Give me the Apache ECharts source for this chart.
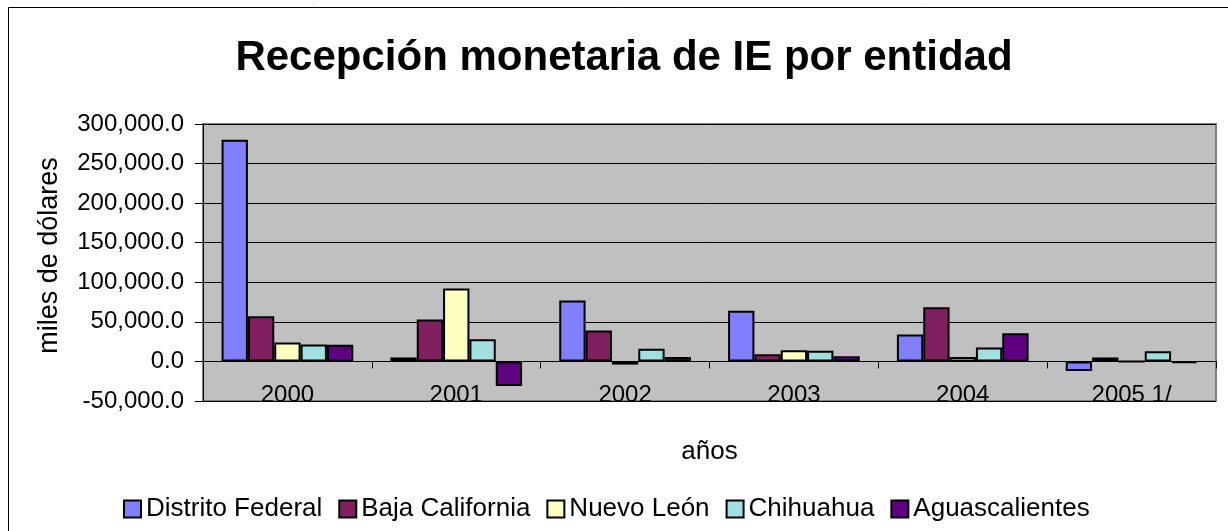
<!DOCTYPE html>
<html>
<head>
<meta charset="utf-8">
<script src="https://cdn.jsdelivr.net/npm/echarts@6/dist/echarts.min.js"></script>
<style>
html,body{margin:0;padding:0;background:#fff;}
#c{width:1228px;height:531px;}
</style>
</head>
<body>
<div id="c"></div>
<script>
const categories = ['2000', '2001', '2002', '2003', '2004', '2005 1/'];
const seriesNames = ['Distrito Federal', 'Baja California', 'Nuevo León', 'Chihuahua', 'Aguascalientes'];
const distritoFederal = [280000, 5000, 77000, 64000, 34000, -12000];
const bajaCalifornia = [57000, 53000, 39000, 9000, 68500, 5000];
const nuevoLeon = [24000, 92000, -4000, 14000, 5500, -300];
const chihuahua = [21500, 28000, 16000, 13500, 17500, 13000];
const aguascalientes = [21000, -31000, 5500, 6500, 35500, -2000];
const colors = ['#8080FF', '#802060', '#FFFFC0', '#A0E0E0', '#600080'];
const seriesData = [distritoFederal, bajaCalifornia, nuevoLeon, chihuahua, aguascalientes];

const chart = echarts.init(document.getElementById('c'));
const font = 'Liberation Sans, Arial, sans-serif';
chart.setOption({
  animation: false,
  color: colors,
  graphic: [{
    type: 'rect', left: 8, top: 7, silent: true, z: -10,
    shape: { width: 1240, height: 540 },
    style: { fill: '#fff', stroke: '#000', lineWidth: 1 }
  }],
  title: {
    text: 'Recepción monetaria de IE por entidad',
    left: 619, top: 32, textAlign: 'center',
    textStyle: { fontFamily: font, fontWeight: 'bold', fontSize: 42, color: '#000' }
  },
  legend: {
    bottom: 4, left: 118,
    icon: 'rect', itemWidth: 17, itemHeight: 17, itemGap: 16,
    itemStyle: { borderColor: '#000', borderWidth: 2 },
    textStyle: { fontFamily: font, fontSize: 26, color: '#000' },
    data: seriesNames
  },
  grid: {
    left: 203, right: 12, top: 124, bottom: 130,
    show: true, backgroundColor: '#C0C0C0', borderColor: '#808080', borderWidth: 2
  },
  xAxis: [{
    type: 'category', data: categories,
    axisLine: { onZero: true, lineStyle: { color: '#000', width: 1 } },
    axisTick: { show: true, length: 7, interval: 0, lineStyle: { color: '#000' } },
    axisLabel: { show: false }
  }, {
    type: 'category', data: categories, position: 'bottom',
    axisLine: { show: false, onZero: false }, axisTick: { show: false },
    axisLabel: { margin: -18, fontFamily: font, fontSize: 24, color: '#000' },
    name: 'años', nameLocation: 'middle', nameGap: 38,
    nameTextStyle: { fontFamily: font, fontSize: 26, color: '#000' }
  }],
  yAxis: {
    type: 'value', min: -50000, max: 300000, interval: 50000,
    axisLine: { show: true, lineStyle: { color: '#000', width: 1 } },
    axisTick: { show: true, length: 8, lineStyle: { color: '#000' } },
    splitLine: { show: true, lineStyle: { color: '#000', width: 1 } },
    axisLabel: {
      margin: 19, fontFamily: font, fontSize: 24, color: '#000',
      formatter: v => v.toLocaleString('en-US', { minimumFractionDigits: 1, maximumFractionDigits: 1 })
    },
    name: 'miles de dólares', nameLocation: 'middle', nameGap: 140, nameRotate: 90,
    nameTextStyle: { fontFamily: font, fontSize: 27, color: '#000', padding: [0, 0, 0, 14] }
  },
  series: seriesNames.map((n, i) => ({
    name: n, type: 'bar', xAxisIndex: 0, data: seriesData[i],
    barGap: '0%', barCategoryGap: '22%',
    itemStyle: { color: colors[i], borderColor: '#000', borderWidth: 2 }
  }))
});
</script>
</body>
</html>
